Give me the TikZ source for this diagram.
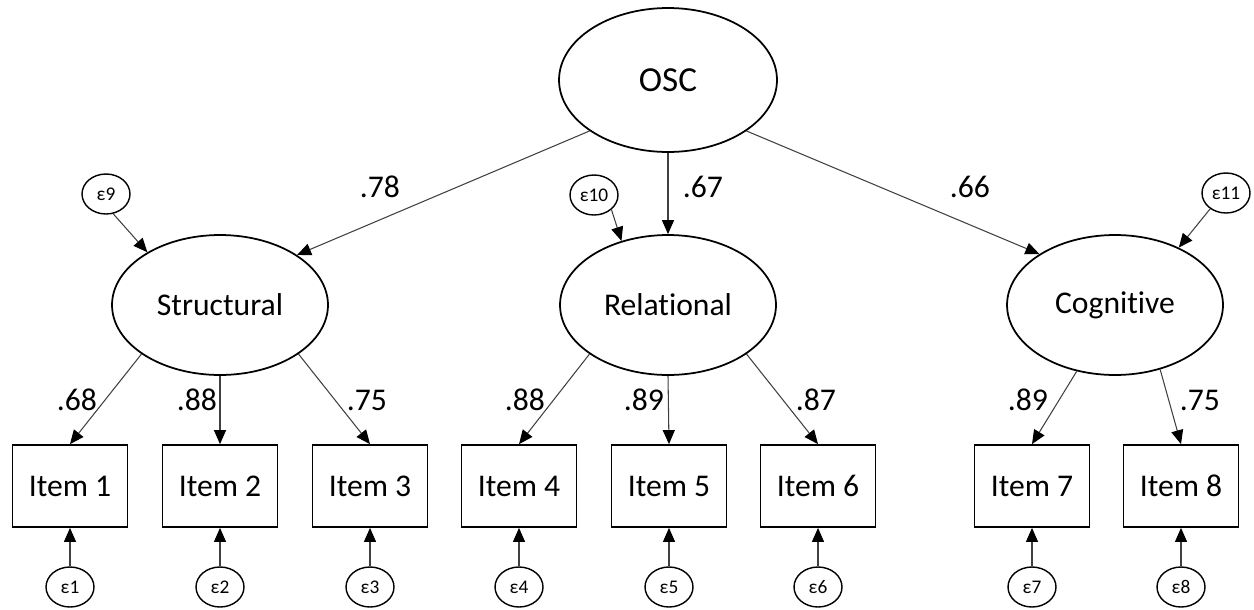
\documentclass[tikz,border=0pt]{standalone}
\usepackage{fontspec}
\setmainfont[Ligatures=NoCommon]{Carlito}
\usetikzlibrary{shapes.geometric,arrows.meta}
\begin{document}
\begin{tikzpicture}[x=0.02cm,y=-0.02cm,
    latent/.style={ellipse,draw,line width=1pt,minimum width=4.32cm,minimum height=2.8cm,inner sep=0pt,font=\fontsize{18}{20}\selectfont},
    item/.style={rectangle,draw,line width=1pt,minimum width=2.3cm,minimum height=1.64cm,font=\fontsize{18}{20}\selectfont},
    err/.style={ellipse,draw,line width=0.8pt,minimum width=0.96cm,minimum height=0.8cm,inner sep=0pt,font=\fontsize{11}{12}\selectfont},
    loading/.style={-{Triangle[length=2.8mm,width=2.4mm,black]},draw=black!75,line width=0.6pt},
    coef/.style={font=\fontsize{18}{20}\selectfont}]
  \useasboundingbox (0,0) rectangle (1254,609);
  % latent factors
  \node[latent,minimum width=4.36cm,minimum height=2.88cm,font=\fontsize{20}{22}\selectfont] (osc) at (668,80) {OSC};
  \node[latent] (str) at (220,305) {Structural};
  \node[latent] (rel) at (668,305) {Relational};
  \node[latent] (cog) at (1115,305) {Cognit\kern0pt ive};
  % disturbances
  \node[err] (e9) at (106,194) {ε9};
  \node[err] (e10) at (594,195) {ε10};
  \node[err] (e11) at (1226,193) {ε11};
  % items with their errors
  \foreach \n/\x in {1/70,2/220,3/370,4/519,5/669,6/818,7/1032,8/1181} {
    \node[item] (i\n) at (\x,486) {Item \n};
    \node[err] (e\n) at (\x,587) {ε\n};
    \draw[loading] (e\n) -- (i\n);
  }
  % second order loadings
  \draw[loading] (osc.213) -- (str.33);
  \draw[loading] (osc) -- (rel);
  \draw[loading] (osc.327) -- (cog.146);
  \node[coef] (l1) at (380,187) {.78};
  \node[coef] (l2) at (703,187) {.67};
  \node[coef] (l3) at (970,187) {.66};
  % first order loadings
  \draw[loading] (str.212) -- (i1.north);
  \draw[loading] (str) -- (i2);
  \draw[loading] (str.328) -- (i3.north);
  \draw[loading] (rel.212) -- (i4.north);
  \draw[loading] (rel.south) -- (i5.north);
  \draw[loading] (rel.328) -- (i6.north);
  \draw[loading] (cog.240) -- (i7.north);
  \draw[loading] (cog.305) -- (i8.north);
  \node[coef] (l4) at (77,400) {.68};
  \node[coef] (l5) at (197,400) {.88};
  \node[coef] (l6) at (367,400) {.75};
  \node[coef] (l7) at (525,400) {.88};
  \node[coef] (l8) at (644,400) {.89};
  \node[coef] (l9) at (816,400) {.87};
  \node[coef] (l10) at (1028,400) {.89};
  \node[coef] (l11) at (1200,400) {.75};
  % disturbance paths
  \draw[loading] (e9.290) -- (str.144);
  \draw[loading] (e10.320) -- (rel.126);
  \draw[loading] (e11.225) -- (cog.42);
\end{tikzpicture}
\end{document}
